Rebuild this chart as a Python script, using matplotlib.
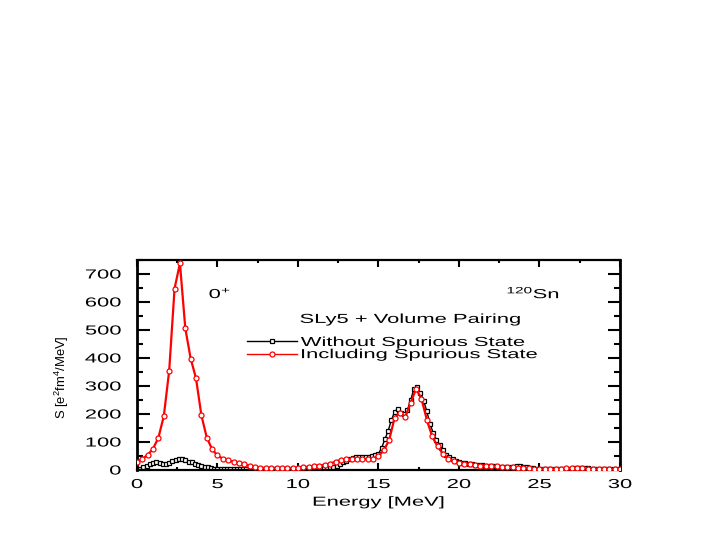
import numpy as np
import matplotlib
matplotlib.use("Agg")
import matplotlib.pyplot as plt
from matplotlib.lines import Line2D
from matplotlib.ticker import MultipleLocator
from matplotlib.patheffects import AbstractPathEffect
from matplotlib.transforms import Affine2D

plt.rcParams['font.family'] = ['Liberation Sans', 'DejaVu Sans']
plt.rcParams['mathtext.fontset'] = 'custom'
plt.rcParams['mathtext.rm'] = 'Liberation Sans'
plt.rcParams['mathtext.it'] = 'Liberation Sans'

# Including spurious state: energy step 1/3 MeV
red_step = 1.0 / 3.0
red_values = [30, 40, 54, 76, 116, 193, 355, 648, 738, 506,
              398, 327, 195, 116, 74, 52, 40, 34, 29, 24,
              20, 15, 11, 8, 7, 7, 6, 6, 6, 7,
              8, 10, 12, 15, 16, 19, 23, 30, 36, 39,
              40, 41, 40, 39, 41, 50, 70, 108, 186, 205,
              190, 240, 290, 255, 180, 120, 85, 57, 40, 31,
              26, 22, 20, 18, 16, 15, 14, 13, 11, 10,
              9, 8, 7, 6, 5, 5, 5, 5, 5, 5,
              6, 6, 6, 6, 5, 5, 5, 5, 4, 4, 4]

# Without spurious state: energy step 0.2 MeV
black_step = 0.2
black_values = [3, 5, 10, 16, 22, 26, 27, 24, 21, 22,
                26, 32, 37, 40, 38, 34, 30, 27, 23, 19,
                15, 12, 9, 7, 5, 4,
                3, 3, 3, 3, 3, 2, 2, 2, 2, 2, 2, 2, 2, 2, 2, 2, 2, 2, 2, 2, 2, 2, 3, 3,
                3, 3, 3, 4, 4, 5, 5, 6, 6, 7,
                9, 12, 16, 21, 27, 33, 38, 42, 45, 47,
                48, 48, 48, 49, 52, 58, 80, 110, 140, 178,
                208, 218, 205, 200, 215, 250, 290, 297, 275, 248,
                210, 165, 132, 108, 90, 70, 55, 45, 38, 33,
                29, 26, 24, 22, 20, 19, 18, 17, 16, 15,
                14, 13, 12, 11, 10, 10, 11, 12, 13, 13,
                11, 9, 7, 6, 5, 5,
                5, 5, 5, 5, 5, 5, 5, 5, 5, 5, 6, 6, 6, 6, 6, 5, 5, 5, 5, 5, 4, 4, 4, 4, 4]

legend_labels = ['Without Spurious State', 'Including Spurious State']

red_E = np.arange(len(red_values)) * red_step
black_E = np.arange(len(black_values)) * black_step


class HStretch(AbstractPathEffect):
    """Stretch text glyphs along the text direction (wide font look)."""
    def __init__(self, sx=1.68, anchor='center'):
        super().__init__()
        self.sx = sx
        self.anchor = anchor

    def draw_path(self, renderer, gc, tpath, affine, rgbFace=None):
        ext = tpath.get_extents()
        if self.anchor == 'center':
            x0 = 0.5 * (ext.x0 + ext.x1)
        elif self.anchor == 'right':
            x0 = ext.x1
        else:
            x0 = ext.x0
        t = Affine2D().translate(-x0, 0).scale(self.sx, 1).translate(x0, 0)
        renderer.draw_path(gc, tpath, t + affine, rgbFace)


FS = 9.4
SX = 1.68

fig = plt.figure(figsize=(7.08, 5.45), dpi=100)
ax = fig.add_axes([0.1935, 0.1376, 0.6822, 0.3854])

ax.plot(black_E, black_values, color='black', lw=1.0, marker='s', ms=3.2,
        mfc='white', mec='black', mew=0.9, zorder=2)
ax.plot(red_E, red_values, color='red', lw=1.6, marker='o', ms=3.6,
        mfc='white', mec='red', mew=0.9, zorder=3)

ax.set_xlim(0, 30)
ax.set_ylim(0, 750)
ax.xaxis.set_major_locator(MultipleLocator(5))
ax.xaxis.set_minor_locator(MultipleLocator(2.5))
ax.yaxis.set_major_locator(MultipleLocator(100))
ax.yaxis.set_minor_locator(MultipleLocator(50))
ax.tick_params(which='both', direction='in', top=True, right=True, width=1.5,
               labelsize=FS)
ax.tick_params(axis='x', which='major', length=5, pad=6.5)
ax.tick_params(axis='x', which='minor', length=2.5)
ax.tick_params(axis='y', which='major', length=9, pad=11.5)
ax.tick_params(axis='y', which='minor', length=4.5)
for side, s in ax.spines.items():
    s.set_linewidth(2.0 if side in ('left', 'right') else 1.6)

xl = ax.set_xlabel('Energy [MeV]', fontsize=FS)
ax.xaxis.set_label_coords(0.5, -0.127)
xl.set_path_effects([HStretch(SX, 'center')])
ax.set_ylabel('S [e$^2$fm$^4$/MeV]', fontsize=FS)
ax.yaxis.set_label_coords(-0.137, 0.44)

t1 = ax.text(4.47, 630, '0$^{+}$', fontsize=FS, ha='left', va='center')
t1.set_path_effects([HStretch(SX, 'left')])
t2 = ax.text(26.27, 630, '$^{120}$Sn', fontsize=FS, ha='right', va='center')
t2.set_path_effects([HStretch(SX, 'right')])
t3 = ax.text(16.96, 536, 'SLy5 + Volume Pairing', fontsize=FS, ha='center', va='center')
t3.set_path_effects([HStretch(SX, 'center')])

handles = [Line2D([], [], color='black', lw=1.0, marker='s', ms=3.2, mfc='white', mec='black', mew=0.9),
           Line2D([], [], color='red', lw=1.0, marker='o', ms=3.6, mfc='white', mec='red', mew=0.9)]
leg = ax.legend(handles, legend_labels,
                loc='upper left', bbox_to_anchor=(0.227, 0.634), frameon=False,
                fontsize=FS, handlelength=3.85, handletextpad=0.3, labelspacing=0.0,
                borderaxespad=0, borderpad=0, numpoints=1)
for t in leg.get_texts():
    t.set_path_effects([HStretch(SX, 'left')])

fig.canvas.draw()
for lbl in ax.get_xticklabels():
    lbl.set_path_effects([HStretch(SX, 'center')])
for lbl in ax.get_yticklabels():
    lbl.set_path_effects([HStretch(SX, 'right')])

fig.savefig('out.png', dpi=100)
